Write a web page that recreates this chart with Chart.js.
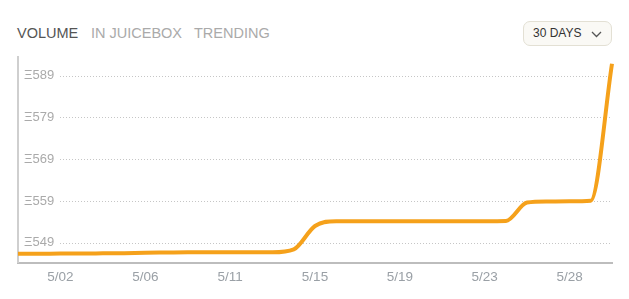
<!DOCTYPE html>
<html>
<head>
<meta charset="utf-8">
<script src="https://cdn.jsdelivr.net/npm/chart.js@4.4.1/dist/chart.umd.min.js"></script>
<style>
  body { margin: 0; background: #fff; font-family: "Liberation Sans", Arial, sans-serif; }
  #wrap { position: relative; width: 629px; height: 299px; overflow: hidden; }
  .tab { position: absolute; top: 24px; font-size: 14.5px; line-height: 18px; color: #aaa; }
  .tab.on { color: #555; }
  .btn { position: absolute; left: 523px; top: 21px; width: 89px; height: 25px; box-sizing: border-box;
         border: 1px solid #e3e0d4; border-radius: 7px; background: #faf9f5;
         font-size: 12px; line-height: 23px; color: #333; padding-left: 9px; }
  .btn svg { position: absolute; left: 67px; top: 9px; }
  #box { position: absolute; left: 0; top: 43px; width: 629px; height: 256px; }
</style>
</head>
<body>
<div id="wrap">
  <div class="tab on" style="left:17px">VOLUME</div>
  <div class="tab" style="left:91px">IN JUICEBOX</div>
  <div class="tab" style="left:194px">TRENDING</div>
  <div class="btn">30 DAYS
    <svg width="11" height="7" viewBox="0 0 11 7"><polyline points="1,1 5.5,5.5 10,1" fill="none" stroke="#555" stroke-width="1.3"/></svg>
  </div>
  <div id="box"><canvas id="volChart"></canvas></div>
</div>
<script>
const dates = ['4/30','5/01','5/02','5/03','5/04','5/05','5/06','5/07','5/09','5/10',
               '5/11','5/12','5/13','5/14','5/15','5/16','5/17','5/18','5/19','5/20',
               '5/21','5/22','5/23','5/24','5/25','5/27','5/28','5/29','5/30'];
const volume = [546.35, 546.35, 546.4, 546.4, 546.45, 546.5, 546.6, 546.65, 546.7, 546.7,
                546.7, 546.7, 546.7, 547.4, 553.0, 554.15, 554.15, 554.15, 554.15, 554.15,
                554.15, 554.15, 554.15, 554.2, 558.6, 558.85, 558.9, 559.05, 591.85];
const xTickLabels = ['5/02','5/06','5/11','5/15','5/19','5/23','5/28'];
const yTicks = [549, 559, 569, 579, 589];

// dotted gridlines that start to the right of the mirrored y labels
const dottedGrid = {
  id: 'dottedGrid',
  beforeDatasetsDraw(chart) {
    const {ctx, chartArea, scales: {y}} = chart;
    ctx.save();
    ctx.strokeStyle = '#c6c6c6';
    ctx.lineWidth = 1;
    ctx.setLineDash([1, 2]);
    y.ticks.forEach(t => {
      const py = Math.round(y.getPixelForValue(t.value)) + 0.5;
      ctx.beginPath();
      ctx.moveTo(chartArea.left + 42, py);
      ctx.lineTo(chartArea.right, py);
      ctx.stroke();
    });
    ctx.restore();
  }
};

const ctx = document.getElementById('volChart').getContext('2d');
new Chart(ctx, {
  type: 'line',
  data: {
    labels: dates,
    datasets: [{
      label: 'Volume',
      data: volume,
      borderColor: '#f5a11b',
      borderWidth: 4,
      pointRadius: 0,
      cubicInterpolationMode: 'monotone',
      fill: false
    }]
  },
  options: {
    responsive: true,
    maintainAspectRatio: false,
    animation: false,
    layout: { padding: { left: 6, right: 17, top: 0, bottom: 8 } },
    plugins: { legend: { display: false }, tooltip: { enabled: false } },
    scales: {
      x: {
        grid: { display: false, drawTicks: false },
        border: { display: true, color: '#bdbdbd', width: 2, dash: [1, 1] },
        ticks: {
          autoSkip: false, maxRotation: 0, padding: 6,
          color: '#9aa0a6', font: { size: 13.5, family: '"Liberation Sans", Arial, sans-serif' }
        },
        afterBuildTicks: scale => {
          scale.ticks = scale.ticks.filter(t => xTickLabels.includes(dates[t.value]));
        }
      },
      y: {
        min: 544.19,
        max: 593.5,
        grid: { display: false, drawTicks: false },
        border: { display: true, color: '#cfcfcf', width: 2 },
        ticks: {
          mirror: true, padding: 6,
          color: '#aaa', font: { size: 13, family: '"Liberation Sans", Arial, sans-serif' },
          callback: v => 'Ξ' + v
        },
        afterBuildTicks: scale => {
          scale.ticks = yTicks.map(v => ({ value: v }));
        }
      }
    }
  },
  plugins: [dottedGrid]
});
</script>
</body>
</html>
